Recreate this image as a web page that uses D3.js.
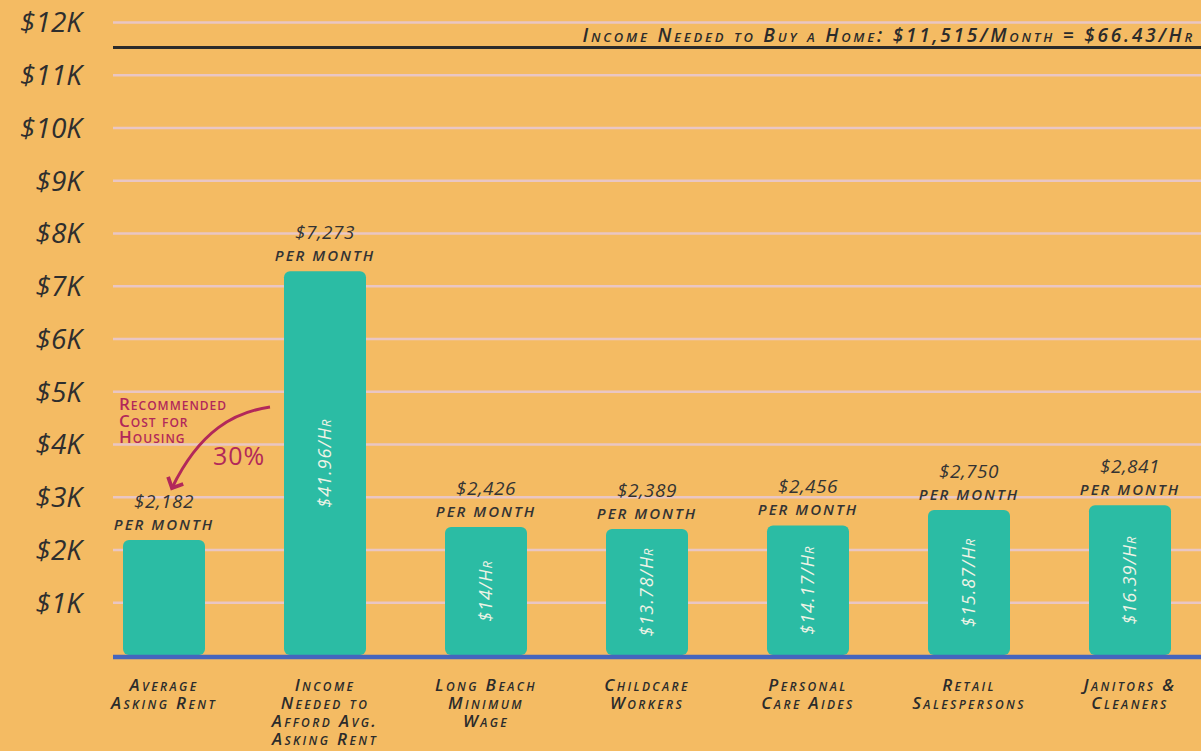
<!DOCTYPE html>
<html>
<head>
<meta charset="utf-8">
<script src="https://cdn.jsdelivr.net/npm/d3@7"></script>
<style>
  html, body { margin: 0; padding: 0; background: #f4bb63; }
  svg { display: block; }
  .hand { font-family: "Open Sans", "DejaVu Sans", sans-serif; font-style: italic; font-variant: small-caps; }
</style>
</head>
<body>
<div id="chart"></div>
<script>
// categories (x labels, one line per array entry)
const categories = [
  ["Average", "Asking Rent"],
  ["Income", "Needed to", "Afford Avg.", "Asking Rent"],
  ["Long Beach", "Minimum", "Wage"],
  ["Childcare", "Workers"],
  ["Personal", "Care Aides"],
  ["Retail", "Salespersons"],
  ["Janitors &", "Cleaners"]
];
const monthly = [2182, 7273, 2426, 2389, 2456, 2750, 2841];
const monthlyLabels = ["$2,182", "$7,273", "$2,426", "$2,389", "$2,456", "$2,750", "$2,841"];
const hourlyLabels = ["", "$41.96/Hr", "$14/Hr", "$13.78/Hr", "$14.17/Hr", "$15.87/Hr", "$16.39/Hr"];
const yTicks = [1000, 2000, 3000, 4000, 5000, 6000, 7000, 8000, 9000, 10000, 11000, 12000];
const homeIncome = 11515;
const homeLabel = "Income Needed to Buy a Home: $11,515/Month = $66.43/Hr";
const noteLines = ["Recommended", "Cost for", "Housing"];
const notePct = "30%";

const W = 1201, H = 751;
const left = 113;

const svg = d3.select("#chart").append("svg")
    .attr("width", W)
    .attr("height", H);

svg.append("rect").attr("width", W).attr("height", H).attr("fill", "#f4bb63");

const keys = categories.map(c => c.join(" "));

// bar centres
const x = d3.scalePoint()
    .domain(keys)
    .range([164, 1130]);
const barW = 82;

const y = d3.scaleLinear()
    .domain([0, 12000])
    .range([655, 22]);

// y axis with gridlines
const yAxis = svg.append("g")
    .attr("transform", "translate(" + left + ",0)")
    .call(d3.axisLeft(y)
        .tickValues(yTicks)
        .tickSize(-(W - left))
        .tickPadding(31)
        .tickFormat(d => "$" + d / 1000 + "K"));

yAxis.select(".domain").remove();
yAxis.selectAll(".tick line")
    .attr("stroke", "#e9c6c4")
    .attr("stroke-width", 2.5);
yAxis.selectAll(".tick text")
    .attr("class", "hand")
    .attr("fill", "#2e2e2e")
    .style("font-size", "28px")
    .style("font-variant", "normal")
    .style("font-weight", "500")
    .attr("dy", "0.35em");

// home income line
svg.append("line")
    .attr("x1", left).attr("x2", W)
    .attr("y1", y(homeIncome)).attr("y2", y(homeIncome))
    .attr("stroke", "#2b2b2b")
    .attr("stroke-width", 3);

svg.append("text")
    .attr("class", "hand")
    .attr("x", 1195)
    .attr("y", y(homeIncome) - 6)
    .attr("text-anchor", "end")
    .attr("fill", "#2b2b2b")
    .style("font-size", "19px")
    .style("font-weight", "600")
    .style("letter-spacing", "2.8px")
    .text(homeLabel);

// bars
const bars = svg.selectAll(".bar")
    .data(monthly)
    .enter().append("g")
    .attr("class", "bar");

bars.append("rect")
    .attr("x", (d, i) => x(keys[i]) - barW / 2)
    .attr("y", d => y(d))
    .attr("width", barW)
    .attr("height", d => y(0) - y(d))
    .attr("rx", 6)
    .attr("fill", "#2bbca4");

// value labels above bars
bars.append("text")
    .attr("class", "hand")
    .attr("x", (d, i) => x(keys[i]))
    .attr("y", d => y(d) - 32)
    .attr("text-anchor", "middle")
    .attr("fill", "#333")
    .style("font-size", "19px")
    .style("font-variant", "normal")
    .style("letter-spacing", "0.5px")
    .text((d, i) => monthlyLabels[i]);

bars.append("text")
    .attr("class", "hand")
    .attr("x", (d, i) => x(keys[i]))
    .attr("y", d => y(d) - 10)
    .attr("text-anchor", "middle")
    .attr("fill", "#333")
    .style("font-size", "15px")
    .style("font-weight", "600")
    .style("letter-spacing", "2px")
    .text("PER MONTH");

// hourly labels inside bars
bars.append("text")
    .attr("class", "hand")
    .attr("transform", (d, i) => "translate(" + x(keys[i]) + "," + ((y(d) + y(0)) / 2) + ") rotate(-90)")
    .attr("text-anchor", "middle")
    .attr("dy", "0.35em")
    .attr("fill", "#eef3e6")
    .style("font-size", "18px")
    .style("letter-spacing", "1px")
    .text((d, i) => hourlyLabels[i]);

// baseline
svg.append("line")
    .attr("x1", left).attr("x2", W)
    .attr("y1", y(0) + 2).attr("y2", y(0) + 2)
    .attr("stroke", "#4565bd")
    .attr("stroke-width", 4.5);

// x labels
const xl = svg.selectAll(".xlab")
    .data(categories)
    .enter().append("text")
    .attr("class", "hand")
    .attr("text-anchor", "middle")
    .attr("fill", "#2b2b2b")
    .style("font-size", "17px")
    .style("font-weight", "600")
    .style("letter-spacing", "2.4px");

xl.selectAll("tspan")
    .data((d, i) => d.map(t => ({ t: t, i: i })))
    .enter().append("tspan")
    .attr("x", d => x(keys[d.i]))
    .attr("y", (d, j) => 691 + j * 18)
    .text(d => d.t);

// recommended note
const noteColor = "#b2285a";
svg.append("text")
    .attr("class", "hand")
    .attr("fill", noteColor)
    .style("font-size", "17px")
    .style("font-weight", "600")
    .style("font-style", "normal")
    .style("letter-spacing", "1px")
    .selectAll("tspan")
    .data(noteLines)
    .enter().append("tspan")
    .attr("x", 119)
    .attr("y", (d, j) => 410 + j * 16.5)
    .text(d => d);

svg.append("text")
    .attr("x", 213)
    .attr("y", 465)
    .attr("fill", noteColor)
    .style("font-family", "'Open Sans', sans-serif")
    .style("font-size", "25px")
    .style("letter-spacing", "1px")
    .text(notePct);

svg.append("defs").append("marker")
    .attr("id", "arrow")
    .attr("viewBox", "0 0 10 10")
    .attr("refX", 5).attr("refY", 5)
    .attr("markerWidth", 7).attr("markerHeight", 7)
    .attr("orient", "auto-start-reverse")
    .append("path")
    .attr("d", "M1,1 L5,5 L1,9")
    .attr("fill", "none")
    .attr("stroke", noteColor)
    .attr("stroke-width", 1.8);

svg.append("path")
    .attr("d", "M270,407 C235,412 200,430 172,488")
    .attr("fill", "none")
    .attr("stroke", noteColor)
    .attr("stroke-width", 3)
    .attr("marker-end", "url(#arrow)");
</script>
</body>
</html>
